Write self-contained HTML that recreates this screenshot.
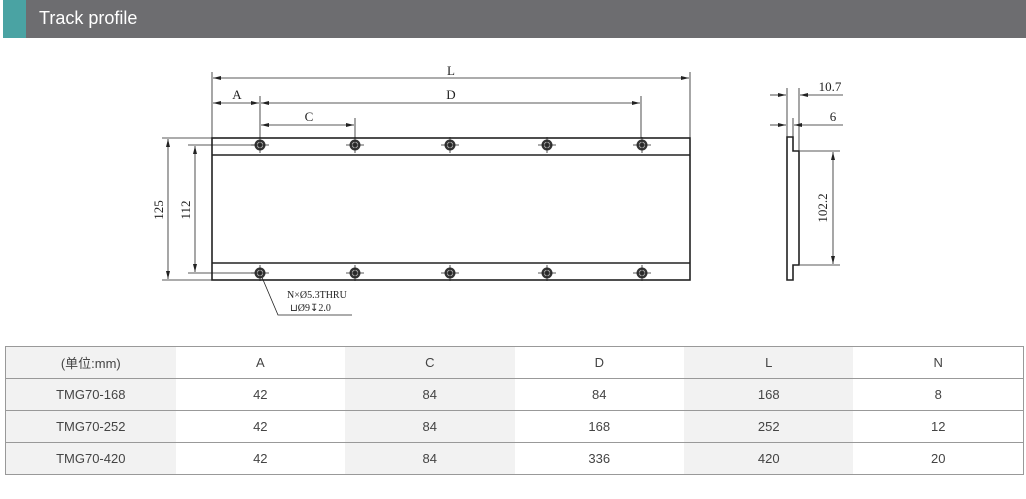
<!DOCTYPE html>
<html><head><meta charset="utf-8"><style>
body{margin:0;width:1026px;height:499px;background:#fff;overflow:hidden;font-family:"Liberation Sans","Noto Sans CJK SC",sans-serif;position:relative}
.hd{position:absolute;left:3px;top:0;width:1023px;height:38px;background:#6d6d70}
.hd .t{position:absolute;left:0;top:0;width:23px;height:38px;background:#4aa3a3}
.hd span{position:absolute;left:36px;top:8px;color:#fff;font-size:18px}
table{position:absolute;left:5px;top:346px;border-collapse:collapse;width:1019px;font-size:13px;color:#444}
td{border:1px solid #999;border-left:none;border-right:none;height:31px;text-align:center;padding:0;width:170px}
tr td:first-child{border-left:1px solid #999}
tr td:last-child{border-right:1px solid #999}
td.g{background:#f2f2f2}
</style></head><body>
<div class="hd"><div class="t"></div><span>Track profile</span></div>
<svg width="1026" height="340" style="position:absolute;left:0;top:0" font-family="Liberation Serif,serif" font-size="13" fill="#222">
<defs><marker id="a" markerWidth="8" markerHeight="6" refX="8" refY="3" orient="auto-start-reverse" markerUnits="userSpaceOnUse"><path d="M0,1 L8,3 L0,5z" fill="#222"/></marker>
<g id="h">
<circle r="5.5" fill="#333"/><circle r="2.8" fill="none" stroke="#bbb" stroke-width="0.8"/>
<line x1="-9" y1="0" x2="9" y2="0" stroke="#222" stroke-width="0.8"/><line x1="0" y1="-8" x2="0" y2="8" stroke="#222" stroke-width="0.8"/>
</g></defs>
<g stroke="#222" fill="none">
<rect x="212" y="138" width="478" height="142" stroke-width="1.6"/>
<line x1="212" y1="155" x2="690" y2="155" stroke-width="1.6"/>
<line x1="212" y1="263" x2="690" y2="263" stroke-width="1.6"/>
<g stroke-width="0.8">
<line x1="212" y1="72" x2="212" y2="138"/><line x1="690" y1="72" x2="690" y2="138"/>
<line x1="213" y1="78" x2="689" y2="78" marker-start="url(#a)" marker-end="url(#a)"/>
<line x1="260" y1="96" x2="260" y2="138"/><line x1="641" y1="96" x2="641" y2="138"/><line x1="355" y1="118" x2="355" y2="138"/>
<line x1="213" y1="103" x2="259" y2="103" marker-start="url(#a)" marker-end="url(#a)"/>
<line x1="261" y1="103" x2="640" y2="103" marker-start="url(#a)" marker-end="url(#a)"/>
<line x1="261" y1="125" x2="354" y2="125" marker-start="url(#a)" marker-end="url(#a)"/>
<line x1="162" y1="138" x2="212" y2="138"/><line x1="162" y1="280" x2="212" y2="280"/>
<line x1="168" y1="139" x2="168" y2="279" marker-start="url(#a)" marker-end="url(#a)"/>
<line x1="188" y1="145" x2="255" y2="145"/><line x1="188" y1="273" x2="255" y2="273"/>
<line x1="195" y1="146" x2="195" y2="272" marker-start="url(#a)" marker-end="url(#a)"/>
<polyline points="261,275 278,315 352,315"/>
</g>
<g stroke-width="0.8">
<line x1="787" y1="88" x2="787" y2="137"/><line x1="799" y1="88" x2="799" y2="151"/><line x1="793" y1="118" x2="793" y2="137"/>
<line x1="770" y1="95" x2="786" y2="95" marker-end="url(#a)"/><line x1="843" y1="95" x2="800" y2="95" marker-end="url(#a)"/>
<line x1="770" y1="125" x2="786" y2="125" marker-end="url(#a)"/><line x1="843" y1="125" x2="794" y2="125" marker-end="url(#a)"/>
<line x1="800" y1="151" x2="840" y2="151"/><line x1="800" y1="265" x2="840" y2="265"/>
<line x1="833" y1="152" x2="833" y2="264" marker-start="url(#a)" marker-end="url(#a)"/>
</g>
<polygon points="787,137 793,137 793,151 799,151 799,265 793,265 793,280 787,280" stroke-width="1.6"/>
</g>
<use href="#h" x="260" y="145"/><use href="#h" x="355" y="145"/><use href="#h" x="450" y="145"/><use href="#h" x="547" y="145"/><use href="#h" x="642" y="145"/>
<use href="#h" x="260" y="273"/><use href="#h" x="355" y="273"/><use href="#h" x="450" y="273"/><use href="#h" x="547" y="273"/><use href="#h" x="642" y="273"/>
<text x="451" y="75" text-anchor="middle">L</text>
<text x="237" y="99" text-anchor="middle">A</text>
<text x="451" y="99" text-anchor="middle">D</text>
<text x="309" y="121" text-anchor="middle">C</text>
<text transform="translate(163,210) rotate(-90)" text-anchor="middle">125</text>
<text transform="translate(190,210) rotate(-90)" text-anchor="middle">112</text>
<text x="287" y="298" font-size="10">N×Ø5.3THRU</text>
<text x="290" y="311" font-size="10">⊔Ø9↧2.0</text>
<text x="830" y="91" text-anchor="middle">10.7</text>
<text x="833" y="121" text-anchor="middle">6</text>
<text transform="translate(827,208) rotate(-90)" text-anchor="middle">102.2</text>
</svg>
<table>
<tr><td class="g">(单位:mm)</td><td>A</td><td class="g">C</td><td>D</td><td class="g">L</td><td>N</td></tr>
<tr><td class="g">TMG70-168</td><td>42</td><td class="g">84</td><td>84</td><td class="g">168</td><td>8</td></tr>
<tr><td class="g">TMG70-252</td><td>42</td><td class="g">84</td><td>168</td><td class="g">252</td><td>12</td></tr>
<tr><td class="g">TMG70-420</td><td>42</td><td class="g">84</td><td>336</td><td class="g">420</td><td>20</td></tr>
</table>
</body></html>
